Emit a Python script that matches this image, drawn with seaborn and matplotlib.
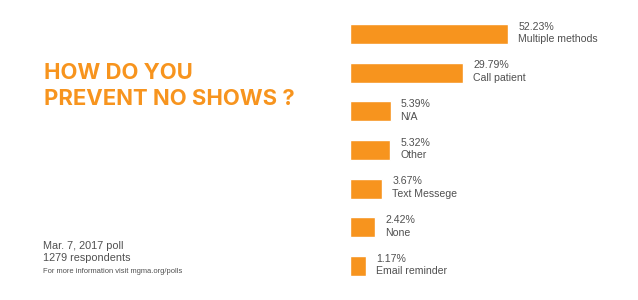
import numpy as np
import pandas as pd
import matplotlib
matplotlib.use("Agg")
import matplotlib.pyplot as plt
import seaborn as sns

categories = ["Multiple methods", "Call patient", "N/A", "Other", "Text Messege", "None", "Email reminder"]
values = [52.23, 29.79, 5.39, 5.32, 3.67, 2.42, 1.17]
title_lines = ["HOW DO YOU", "PREVENT NO SHOWS ?"]
note_lines = ["Mar. 7, 2017 poll", "1279 respondents"]
small_note = "For more information visit mgma.org/polls"

ORANGE = "#F7941E"
GRAY = "#505050"

sns.set_style("white")
plt.rcParams["font.family"] = ["Liberation Sans", "DejaVu Sans"]

df = pd.DataFrame({"category": categories, "value": values})

fig = plt.figure(figsize=(6.38, 3.0), dpi=100)
ax = fig.add_axes([350 / 638, 0.049, 280 / 638, 0.902])

sns.barplot(data=df, x="value", y="category", color=ORANGE, orient="h",
            width=0.52, ax=ax, saturation=1)

p = 0.6
ax.set_xscale("function", functions=(lambda x: np.sign(x) * np.abs(x) ** p,
                                     lambda x: np.sign(x) * np.abs(x) ** (1 / p)))
ax.set_xlim(0, 135)
ax.set_ylim(6.5, -0.5)
ax.set_axis_off()

for i, (c, v) in enumerate(zip(categories, values)):
    ax.annotate(f"{v:.2f}%\n{c}", xy=(v, i), xytext=(10, 1), textcoords="offset pixels",
                ha="left", va="center", fontsize=7.6, color=GRAY,
                linespacing=1.35)

for k, line in enumerate(title_lines):
    fig.text(44 / 638, 1 - (79 + 26 * k) / 300, line, fontsize=15.9,
             family=["Inter", "Roboto"], fontweight="bold",
             color=ORANGE, ha="left", va="baseline")

fig.text(43 / 638, 1 - 249 / 300, note_lines[0], fontsize=7.8, color=GRAY,
         ha="left", va="baseline")
fig.text(43 / 638, 1 - 261 / 300, note_lines[1], fontsize=7.8, color=GRAY,
         ha="left", va="baseline")
fig.text(43 / 638, 1 - 273 / 300, small_note, fontsize=5.4, color=GRAY,
         ha="left", va="baseline")

fig.savefig("out.png", dpi=100, facecolor="white")
